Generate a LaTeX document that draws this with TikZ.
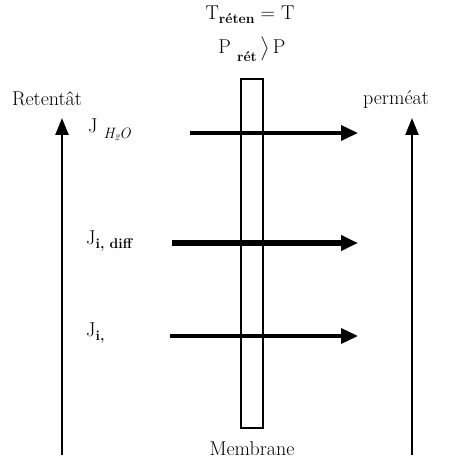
\documentclass[tikz,border=0pt]{standalone}
\usepackage{amsmath,amssymb}
\usepackage{tikz}
\usetikzlibrary{arrows.meta,positioning}

\newcommand{\lowtxt}[2][-0.45ex]{\raisebox{#1}{\fontsize{14}{14}\selectfont\bfseries #2}}

\begin{document}
\begin{tikzpicture}[
  x=1pt, y=-1pt,
  lbl/.style={font=\fontsize{20}{22}\selectfont, inner sep=0pt},
  flux/.style={-{Triangle[length=17pt,width=15pt]}, line width=3.5pt},
  bigflux/.style={flux, line width=6pt},
  side/.style={-{Triangle[length=17pt,width=13pt]}, line width=2.5pt},
  memb/.style={draw, line width=1.3pt}
]
\useasboundingbox (0,0) rectangle (456,465);

% membrane
\draw[memb] (241,79) rectangle (263,428);
\node[lbl] (membrane) at (252,449) {Membrane};

% conditions
\node[lbl] (tcond) at (250,15) {T\lowtxt{réten} = T};
\node[lbl] (pcond) at (252,51) {P \lowtxt[-0.9ex]{rét}\,\smash{$\big\rangle$}\,P};

% streams
\node[lbl] (reten) at (47,99) {Retentât};
\node[lbl] (perm) at (396,99) {perméat};
\coordinate (retbot) at (62,455);
\coordinate (permbot) at (412,455);
\draw[side] (retbot) -- (62,118) coordinate (rettop);
\draw[side] (permbot) -- (412,118) coordinate (permtop);

% fluxes
\node[lbl, anchor=west] (jh2o) at (88,130)
  {J\ \raisebox{-0.7ex}{\fontsize{15}{15}\selectfont\itshape H\raisebox{-0.3ex}{\fontsize{9}{9}\selectfont 2}O}};
\node[lbl, anchor=west] (jdiff) at (86,241) {J\lowtxt{i, diff}};
\node[lbl, anchor=west] (ji) at (86,333) {J\lowtxt{i,}};

\coordinate (a1) at (190,133);
\coordinate (b1) at (358,133);
\coordinate (a2) at (172,243);
\coordinate (b2) at (358,243);
\coordinate (a3) at (170,336);
\coordinate (b3) at (358,336);
\draw[flux] (a1) -- (b1);
\draw[bigflux] (a2) -- (b2);
\draw[flux] (a3) -- (b3);
\end{tikzpicture}
\end{document}
